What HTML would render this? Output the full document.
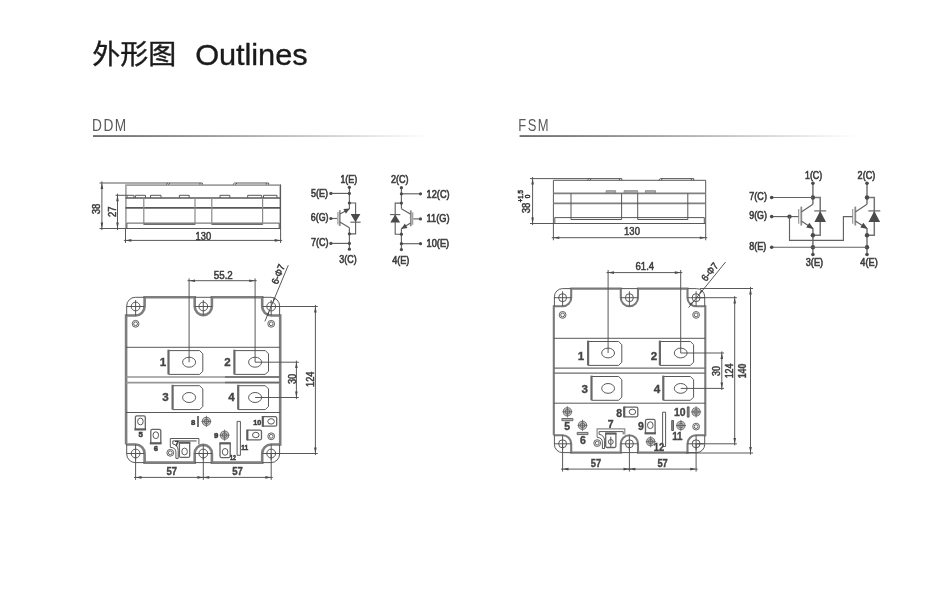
<!DOCTYPE html>
<html lang="zh">
<head>
<meta charset="utf-8">
<title>外形图 Outlines</title>
<style>
html,body{margin:0;padding:0;background:#fff;}
body{width:942px;height:591px;overflow:hidden;position:relative;font-family:"Liberation Sans","Noto Sans CJK SC",sans-serif;}
h1,h2{margin:0;padding:0;font-size:0;line-height:0;font-weight:400;}
svg.hd{position:absolute;left:0;top:0;}
svg .cj{font-weight:400;fill:#231815;stroke:#231815;stroke-width:0.4;}
svg .en{font-weight:400;fill:#231815;stroke:#231815;stroke-width:0.35;}
svg .sub{font-weight:400;fill:#5c5a5a;}
svg{position:absolute;left:0;top:0;}
svg.dw,svg.hd{filter:grayscale(1);}
svg .t{fill:none;stroke:#505050;stroke-width:0.95;}
svg .k{fill:none;stroke:#7e7e7e;stroke-width:2.6;}
svg .k2{fill:none;stroke:#7a7a7a;stroke-width:2.1;}
svg .o{fill:none;stroke:#a0a0a0;stroke-width:1.6;}
svg .o2{fill:none;stroke:#8a8a8a;stroke-width:1.2;}
svg .hb{fill:#b4b4b4;stroke:#606060;stroke-width:0.9;}
svg .vb{fill:#888;stroke:#555;stroke-width:0.9;}
svg .v{fill:none;stroke:#646464;stroke-width:1.3;}
svg .s2{fill:none;stroke:#5c5c5c;stroke-width:2.2;}
svg .s{fill:none;stroke:#585858;stroke-width:1.7;}
svg .kb{fill:none;stroke:#686868;stroke-width:2.2;}
svg .m4{fill:none;stroke:#808080;stroke-width:1.7;}
svg .tf{fill:#b0b0b0;stroke:#808080;stroke-width:0.8;}
svg .m3{fill:none;stroke:#6c6c6c;stroke-width:1.25;}
svg .m2{fill:none;stroke:#6a6a6a;stroke-width:1.5;}
svg .m{fill:none;stroke:#969696;stroke-width:1.7;}
svg .g{fill:none;stroke:#9a9a9a;stroke-width:1.2;}
svg .g2{fill:none;stroke:#8c8c8c;stroke-width:1.8;}
svg .cv{fill:none;stroke:#747474;stroke-width:1.5;}
svg .c{fill:none;stroke:#626262;stroke-width:1.15;}
svg .w2{fill:none;stroke:#5a5a5a;stroke-width:0.95;}
svg .w{fill:none;stroke:#585858;stroke-width:0.8;}
svg .x{fill:#c4c4c4;stroke:#666;stroke-width:0.9;}
svg .f{fill:#4a4a4a;stroke:none;}
svg text{font-family:"Liberation Sans","Noto Sans CJK SC",sans-serif;fill:#3c3c3c;}
svg .d{font-weight:400;stroke:#3c3c3c;stroke-width:0.5;}
svg .b{font-weight:400;stroke:#3c3c3c;stroke-width:0.6;}
svg .n{font-weight:700;fill:#444;stroke:#444;stroke-width:0.35;}
svg .n2{font-weight:700;fill:#3c3c3c;stroke:#3c3c3c;stroke-width:0.55;}
</style>
</head>
<body>
<h1><svg class="hd" width="400" height="90" viewBox="0 0 400 90"><text class="cj" transform="translate(92.2,64.1) scale(1,0.963)" font-size="28">外形图</text><text class="en" transform="translate(195.2,64.6) scale(1,0.963)" font-size="30.8" textLength="112.4" lengthAdjust="spacing">Outlines</text></svg></h1>
<h2><svg class="hd" style="top:100px" width="942" height="50" viewBox="0 100 942 50"><defs><linearGradient id="fade" x1="0" y1="0" x2="1" y2="0"><stop offset="0" stop-color="#5e5c5c"/><stop offset="0.3" stop-color="#8a8888"/><stop offset="0.65" stop-color="#c4c4c4"/><stop offset="1" stop-color="#ffffff"/></linearGradient></defs>
<text class="sub" transform="translate(91.9,130.8) scale(0.845,1)" font-size="16.2" letter-spacing="1.9">DDM</text><rect x="93.0" y="135.2" width="337" height="1.7" fill="url(#fade)"/>
<text class="sub" transform="translate(518.2,130.8) scale(0.80,1)" font-size="16.2" letter-spacing="1.9">FSM</text><rect x="519.6" y="135.2" width="337" height="1.7" fill="url(#fade)"/></svg></h2>
<svg class="dw" width="942" height="591" viewBox="0 0 942 591">
<g id="ddm-side">
<path class="t" d="M127.0 198.0V195.3H134.0V198.0"/>
<path class="t" d="M135.4 198.0V195.3H145.5V198.0"/>
<path class="t" d="M150.5 198.0V195.3H161.0V198.0"/>
<path class="t" d="M179.4 198.0V195.3H189.2V198.0"/>
<path class="t" d="M220.0 198.0V195.3H229.8V198.0"/>
<path class="t" d="M247.7 198.0V195.3H261.7V198.0"/>
<path class="t" d="M263.5 198.0V195.3H277.0V198.0"/>
<path class="o" d="M125.9 228.5V185.1H280.2V228.5"/>
<path class="t" d="M126.9 228.5V223.1H279.2V228.5"/>
<path class="s" d="M125.5 198.0L280.6 198.0"/>
<path class="s" d="M125.5 207.9L280.6 207.9"/>
<path class="o2" d="M143.8 198.0V224.2H195.0V198.0"/>
<path class="t" d="M143.8 224.2L195.0 224.2"/>
<path class="o2" d="M211.8 198.0V224.2H262.6V198.0"/>
<path class="t" d="M211.8 224.2L262.6 224.2"/>
<path class="t" d="M166.0 184.6L167.8 183.0H202.3V184.6M168.4 184.6L170.2 183.0M199.9 184.6V183.0"/>
<path class="t" d="M232.8 184.6L234.6 183.0H268.7V184.6M235.2 184.6L237.0 183.0M266.3 184.6V183.0"/>
<path class="t" d="M99.5 183.0L168.0 183.0"/>
<path class="t" d="M99.5 228.5L280.6 228.5"/>
<path class="t" d="M101.9 181.4L101.9 230.1"/>
<path class="f" d="M101.9 183.0L100.6 188.9L103.2 188.9Z"/>
<path class="f" d="M101.9 228.5L103.2 222.6L100.6 222.6Z"/>
<path class="t" d="M115.5 195.3L127.0 195.3"/>
<path class="t" d="M117.5 193.7L117.5 230.1"/>
<path class="f" d="M117.5 195.3L116.2 201.2L118.8 201.2Z"/>
<path class="f" d="M117.5 228.5L118.8 222.6L116.2 222.6Z"/>
<path class="t" d="M125.5 228.5L125.5 243.0"/>
<path class="t" d="M280.6 184.6L280.6 243.0"/>
<path class="t" d="M123.9 240.4L282.2 240.4"/>
<path class="f" d="M125.5 240.4L131.4 241.7L131.4 239.1Z"/>
<path class="f" d="M280.6 240.4L274.7 239.1L274.7 241.7Z"/>
<text class="d" x="100.4" y="209.0" font-size="10" text-anchor="middle" transform="rotate(-90 100.4 209.0)" textLength="10.6" lengthAdjust="spacingAndGlyphs">38</text>
<text class="d" x="115.8" y="211.8" font-size="10" text-anchor="middle" transform="rotate(-90 115.8 211.8)" textLength="10.6" lengthAdjust="spacingAndGlyphs">27</text>
<text class="d" x="203.3" y="239.6" font-size="10" text-anchor="middle" textLength="15.6" lengthAdjust="spacingAndGlyphs">130</text>
</g>
<g id="fsm-side">
<path class="tf" d="M606.1 193.4V190.7H615.6V193.4"/>
<path class="tf" d="M624.1 193.4V190.7H637.7V193.4"/>
<path class="tf" d="M645.4 193.4V190.7H655.5V193.4"/>
<path class="t" d="M553.4 223.5V180.3H705.7V223.5"/>
<path class="t" d="M554.8 223.5V217.6H704.3V223.5"/>
<path class="m4" d="M553.4 193.4L705.7 193.4"/>
<path class="m4" d="M553.4 203.3L705.7 203.3"/>
<path class="t" d="M571.0 193.4V219.5H621.6V193.4"/>
<path class="t" d="M637.7 193.4V219.5H687.8V193.4"/>
<path class="t" d="M587.2 180.3L589.0 178.6H621.8V180.3M589.6 180.3L591.4 178.6M619.4 180.3V178.6"/>
<path class="t" d="M658.5 180.3L660.3 178.6H693.7V180.3M660.9 180.3L662.7 178.6M691.3 180.3V178.6"/>
<path class="t" d="M530.0 178.6L589.0 178.6"/>
<path class="t" d="M530.0 223.5L705.7 223.5"/>
<path class="t" d="M532.6 177.0L532.6 225.1"/>
<path class="f" d="M532.6 178.6L531.3 184.5L533.9 184.5Z"/>
<path class="f" d="M532.6 223.5L533.9 217.6L531.3 217.6Z"/>
<path class="t" d="M553.4 223.5L553.4 240.3"/>
<path class="t" d="M705.7 223.5L705.7 240.3"/>
<path class="t" d="M551.8 237.7L707.3 237.7"/>
<path class="f" d="M553.4 237.7L559.3 239.0L559.3 236.4Z"/>
<path class="f" d="M705.7 237.7L699.8 236.4L699.8 239.0Z"/>
<text class="d" x="530.0" y="208.0" font-size="10" text-anchor="middle" transform="rotate(-90 530.0 208.0)" textLength="10.6" lengthAdjust="spacingAndGlyphs">38</text>
<text class="b" x="523.4" y="196.2" font-size="6.5" text-anchor="middle" transform="rotate(-90 523.4 196.2)" textLength="12.0" lengthAdjust="spacingAndGlyphs">+1.5</text>
<text class="b" x="530.0" y="196.5" font-size="6.5" text-anchor="middle" transform="rotate(-90 530.0 196.5)">0</text>
<text class="d" x="632.0" y="235.2" font-size="10" text-anchor="middle" textLength="15.8" lengthAdjust="spacingAndGlyphs">130</text>
</g>
<g id="ddm-circuit">
<path class="c" d="M349.4 187.3L349.4 209.1"/>
<path class="c" d="M349.4 227.8L349.4 249.2"/>
<path class="c" d="M330.9 193.4L349.4 193.4"/>
<path class="c" d="M330.9 243.4L349.4 243.4"/>
<path class="c" d="M330.9 218.5L337.4 218.5"/>
<path class="g" d="M337.9 212.0L337.9 224.6"/>
<path class="g2" d="M339.8 210.2L339.8 226.0"/>
<path class="c" d="M339.9 214.0L349.4 209.1"/>
<path class="c" d="M339.9 222.0L349.4 227.8"/>
<path class="f" d="M349.7 208.6L345.9 213.7L343.4 209.1Z"/>
<path class="c" d="M349.4 203.0H355.6V233.8H349.4"/>
<path class="f" d="M350.6 214.1L355.5 222.2L360.4 214.1Z"/>
<path class="c" d="M350.4 222.2L360.6 222.2"/>
<circle class="f" cx="349.4" cy="187.3" r="1.6"/>
<circle class="f" cx="349.4" cy="193.4" r="1.6"/>
<circle class="f" cx="349.4" cy="203.0" r="1.6"/>
<circle class="f" cx="349.4" cy="233.8" r="1.6"/>
<circle class="f" cx="349.4" cy="243.4" r="1.6"/>
<circle class="f" cx="349.4" cy="249.2" r="1.6"/>
<circle class="f" cx="330.9" cy="193.4" r="1.6"/>
<circle class="f" cx="330.9" cy="243.4" r="1.6"/>
<circle class="f" cx="330.9" cy="218.5" r="1.6"/>
<text class="b" x="348.8" y="183.2" font-size="10.3" text-anchor="middle" textLength="16.8" lengthAdjust="spacingAndGlyphs">1(E)</text>
<text class="b" x="319.4" y="197.0" font-size="10.3" text-anchor="middle" textLength="17.0" lengthAdjust="spacingAndGlyphs">5(E)</text>
<text class="b" x="319.7" y="221.4" font-size="10.3" text-anchor="middle" textLength="17.8" lengthAdjust="spacingAndGlyphs">6(G)</text>
<text class="b" x="319.8" y="246.4" font-size="10.3" text-anchor="middle" textLength="17.6" lengthAdjust="spacingAndGlyphs">7(C)</text>
<text class="b" x="348.0" y="262.8" font-size="10.3" text-anchor="middle" textLength="17.4" lengthAdjust="spacingAndGlyphs">3(C)</text>
<path class="c" d="M401.4 187.7L401.4 208.7"/>
<path class="c" d="M401.4 228.6L401.4 249.6"/>
<path class="c" d="M401.4 193.8L420.5 193.8"/>
<path class="c" d="M401.4 243.7L420.5 243.7"/>
<path class="c" d="M413.2 218.9L420.5 218.9"/>
<path class="g" d="M412.7 212.2L412.7 224.8"/>
<path class="g2" d="M410.8 210.4L410.8 226.2"/>
<path class="c" d="M401.4 208.7L410.7 214.3"/>
<path class="c" d="M410.7 223.0L401.4 228.6"/>
<path class="f" d="M401.2 228.9L404.8 223.6L407.5 228.0Z"/>
<path class="c" d="M401.4 203.1H395.2V234.2H401.4"/>
<path class="f" d="M390.3 222.6L395.2 214.6L400.1 222.6Z"/>
<path class="c" d="M390.1 214.6L400.3 214.6"/>
<circle class="f" cx="401.4" cy="187.7" r="1.6"/>
<circle class="f" cx="401.4" cy="193.8" r="1.6"/>
<circle class="f" cx="401.4" cy="203.1" r="1.6"/>
<circle class="f" cx="401.4" cy="234.2" r="1.6"/>
<circle class="f" cx="401.4" cy="243.7" r="1.6"/>
<circle class="f" cx="401.4" cy="249.6" r="1.6"/>
<circle class="f" cx="420.5" cy="193.8" r="1.6"/>
<circle class="f" cx="420.5" cy="243.7" r="1.6"/>
<circle class="f" cx="420.5" cy="218.9" r="1.6"/>
<text class="b" x="399.8" y="183.2" font-size="10.3" text-anchor="middle" textLength="17.6" lengthAdjust="spacingAndGlyphs">2(C)</text>
<text class="b" x="438.1" y="197.7" font-size="10.3" text-anchor="middle" textLength="23.0" lengthAdjust="spacingAndGlyphs">12(C)</text>
<text class="b" x="438.1" y="222.3" font-size="10.3" text-anchor="middle" textLength="23.0" lengthAdjust="spacingAndGlyphs">11(G)</text>
<text class="b" x="437.9" y="246.8" font-size="10.3" text-anchor="middle" textLength="22.6" lengthAdjust="spacingAndGlyphs">10(E)</text>
<text class="b" x="400.8" y="263.9" font-size="10.3" text-anchor="middle" textLength="17.2" lengthAdjust="spacingAndGlyphs">4(E)</text>
</g>
<g id="fsm-circuit">
<path class="cv" d="M812.9 183.3L812.9 204.2"/>
<path class="cv" d="M812.9 228.5L812.9 254.5"/>
<path class="g" d="M798.7 208.9L798.7 223.7"/>
<path class="g2" d="M801.3 206.6L801.3 225.5"/>
<path class="c" d="M801.3 211.9L812.9 204.2"/>
<path class="c" d="M801.3 221.0L812.9 228.5"/>
<path class="f" d="M813.7 228.9L806.2 227.6L809.4 222.7Z"/>
<path class="cv" d="M812.9 197.5H820.2V235.3H812.9"/>
<path class="f" d="M814.4 222.0L820.2 210.9L826.0 222.0Z"/>
<path class="c" d="M814.2 210.9L826.2 210.9"/>
<circle class="f" cx="812.9" cy="183.3" r="1.8"/>
<circle class="f" cx="812.9" cy="254.5" r="1.8"/>
<circle class="f" cx="812.9" cy="197.5" r="2.2"/>
<circle class="f" cx="812.9" cy="235.3" r="2.2"/>
<circle class="f" cx="812.9" cy="247.2" r="2.2"/>
<path class="cv" d="M867.0 183.3L867.0 204.2"/>
<path class="cv" d="M867.0 228.5L867.0 254.5"/>
<path class="g" d="M852.7 208.9L852.7 223.7"/>
<path class="g2" d="M855.3 206.6L855.3 225.5"/>
<path class="c" d="M855.3 211.9L867.0 204.2"/>
<path class="c" d="M855.3 221.0L867.0 228.5"/>
<path class="f" d="M867.8 228.9L860.3 227.6L863.4 222.7Z"/>
<path class="cv" d="M867.0 197.5H874.3V235.3H867.0"/>
<path class="f" d="M868.5 222.0L874.3 210.9L880.1 222.0Z"/>
<path class="c" d="M868.3 210.9L880.3 210.9"/>
<circle class="f" cx="867.0" cy="183.3" r="1.8"/>
<circle class="f" cx="867.0" cy="254.5" r="1.8"/>
<circle class="f" cx="867.0" cy="197.5" r="2.2"/>
<circle class="f" cx="867.0" cy="235.3" r="2.2"/>
<circle class="f" cx="867.0" cy="247.2" r="2.2"/>
<path class="c" d="M771.7 197.5L812.9 197.5"/>
<circle class="f" cx="771.7" cy="197.5" r="1.8"/>
<path class="c" d="M771.7 216.6L798.5 216.6"/>
<circle class="f" cx="771.7" cy="216.6" r="1.8"/>
<circle class="f" cx="789.5" cy="216.6" r="2.2"/>
<path class="c" d="M789.5 216.6V240.3H843.4V216.6H852.5"/>
<path class="c" d="M771.7 247.2L867.0 247.2"/>
<circle class="f" cx="771.7" cy="247.2" r="1.8"/>
<text class="b" x="813.6" y="179.4" font-size="10.3" text-anchor="middle" textLength="17.2" lengthAdjust="spacingAndGlyphs">1(C)</text>
<text class="b" x="866.4" y="179.4" font-size="10.3" text-anchor="middle" textLength="17.6" lengthAdjust="spacingAndGlyphs">2(C)</text>
<text class="b" x="758.1" y="199.9" font-size="10.3" text-anchor="middle" textLength="17.6" lengthAdjust="spacingAndGlyphs">7(C)</text>
<text class="b" x="758.1" y="219.4" font-size="10.3" text-anchor="middle" textLength="17.8" lengthAdjust="spacingAndGlyphs">9(G)</text>
<text class="b" x="757.7" y="249.9" font-size="10.3" text-anchor="middle" textLength="17.0" lengthAdjust="spacingAndGlyphs">8(E)</text>
<text class="b" x="814.4" y="266.3" font-size="10.3" text-anchor="middle" textLength="17.4" lengthAdjust="spacingAndGlyphs">3(E)</text>
<text class="b" x="869.0" y="266.3" font-size="10.3" text-anchor="middle" textLength="17.4" lengthAdjust="spacingAndGlyphs">4(E)</text>
</g>
<g id="ddm-top">
<path class="k" d="M126.1 444.5V315.5H135.6A9.0 9.0 0 0 0 144.6 306.5V297.3H194.7V306.5A8.6 8.6 0 0 0 211.9 306.5V297.3H262.2V306.5A9.0 9.0 0 0 0 271.2 315.5H280.2V444.5H271.2A9.0 9.0 0 0 0 262.2 453.5V462.6H211.9V453.5A8.6 8.6 0 0 0 194.7 453.5V462.6H144.6V453.5A9.0 9.0 0 0 0 135.6 444.5H126.1"/>
<path class="t" d="M126.7 315.5V305.9A8.6 8.6 0 0 1 135.3 297.3H144.6"/>
<path class="t" d="M262.2 297.3H271.0A8.6 8.6 0 0 1 279.6 305.9V315.5"/>
<path class="t" d="M126.7 444.5V454.0A8.6 8.6 0 0 0 135.3 462.6H144.6"/>
<path class="t" d="M262.2 462.6H271.0A8.6 8.6 0 0 0 279.6 454.0V444.5"/>
<path class="t" d="M194.7 297.3L211.9 297.3"/>
<path class="t" d="M194.7 462.6L211.9 462.6"/>
<circle class="t" cx="135.6" cy="306.5" r="4.4"/>
<path class="t" d="M127.0 306.5L144.2 306.5"/>
<path class="t" d="M135.6 300.1L135.6 315.5"/>
<circle class="t" cx="135.6" cy="453.5" r="4.4"/>
<path class="t" d="M127.0 453.5L144.2 453.5"/>
<path class="t" d="M135.6 444.5L135.6 459.9"/>
<circle class="t" cx="203.3" cy="306.5" r="4.4"/>
<path class="t" d="M194.7 306.5L211.9 306.5"/>
<path class="t" d="M203.3 300.1L203.3 315.5"/>
<circle class="t" cx="203.3" cy="453.5" r="4.4"/>
<path class="t" d="M194.7 453.5L211.9 453.5"/>
<path class="t" d="M203.3 444.5L203.3 459.9"/>
<circle class="t" cx="271.2" cy="306.5" r="4.4"/>
<path class="t" d="M262.6 306.5L279.8 306.5"/>
<path class="t" d="M271.2 300.1L271.2 315.5"/>
<circle class="t" cx="271.2" cy="453.5" r="4.4"/>
<path class="t" d="M262.6 453.5L279.8 453.5"/>
<path class="t" d="M271.2 444.5L271.2 459.9"/>
<circle class="w2" cx="135.6" cy="323.8" r="3.4"/>
<circle class="w2" cx="135.6" cy="323.8" r="1.9"/>
<circle class="w2" cx="271.2" cy="323.8" r="3.4"/>
<circle class="w2" cx="271.2" cy="323.8" r="1.9"/>
<circle class="w2" cx="271.2" cy="436.3" r="3.4"/>
<circle class="w2" cx="271.2" cy="436.3" r="1.9"/>
<circle class="w2" cx="170.3" cy="452.8" r="3.4"/>
<circle class="w2" cx="170.3" cy="452.8" r="1.9"/>
<path class="t" d="M126.1 347.3L280.2 347.3"/>
<path class="m" d="M126.1 377.0L280.2 377.0"/>
<path class="m" d="M126.1 382.6L280.2 382.6"/>
<path class="m2" d="M225.0 377.0L280.2 377.0"/>
<path class="m2" d="M225.0 382.6L280.2 382.6"/>
<path class="t" d="M126.1 412.5L280.2 412.5"/>
<path class="t" d="M168.5 350.6H199.6L202.8 353.8V371.2L199.6 374.4H168.5"/>
<path class="kb" d="M168.5 349.7L168.5 374.4"/>
<ellipse class="t" cx="189.1" cy="362.2" rx="6.5" ry="5.0"/>
<path class="t" d="M234.4 350.6H265.3L268.5 353.8V371.2L265.3 374.4H234.4"/>
<path class="kb" d="M234.4 349.7L234.4 374.4"/>
<ellipse class="t" cx="255.1" cy="362.2" rx="6.5" ry="5.0"/>
<path class="t" d="M172.6 385.7H199.6L202.8 388.9V406.4L199.6 409.6H172.6"/>
<path class="kb" d="M172.6 384.8L172.6 409.6"/>
<ellipse class="t" cx="189.1" cy="397.5" rx="6.5" ry="5.0"/>
<path class="t" d="M238.2 385.7H265.3L268.5 388.9V406.4L265.3 409.6H238.2"/>
<path class="kb" d="M238.2 384.8L238.2 409.6"/>
<ellipse class="t" cx="255.1" cy="397.5" rx="6.5" ry="5.0"/>
<text class="n" x="163.0" y="365.7" font-size="11.6" text-anchor="middle">1</text>
<text class="n" x="227.6" y="365.7" font-size="11.6" text-anchor="middle">2</text>
<text class="n" x="165.4" y="401.3" font-size="11.6" text-anchor="middle">3</text>
<text class="n" x="231.4" y="401.3" font-size="11.6" text-anchor="middle">4</text>
<path class="t" d="M189.1 278.4L189.1 362.2"/>
<path class="t" d="M255.1 278.4L255.1 362.2"/>
<path class="t" d="M187.5 280.7L256.7 280.7"/>
<path class="f" d="M189.1 280.7L195.0 282.0L195.0 279.4Z"/>
<path class="f" d="M255.1 280.7L249.2 279.4L249.2 282.0Z"/>
<text class="d" x="223.3" y="279.0" font-size="10" text-anchor="middle" textLength="19.0" lengthAdjust="spacingAndGlyphs">55.2</text>
<path class="t" d="M255.1 362.2L298.8 362.2"/>
<path class="t" d="M255.1 397.5L298.8 397.5"/>
<path class="t" d="M296.4 360.6L296.4 399.1"/>
<path class="f" d="M296.4 362.2L295.1 368.1L297.7 368.1Z"/>
<path class="f" d="M296.4 397.5L297.7 391.6L295.1 391.6Z"/>
<text class="d" x="295.5" y="379.0" font-size="10" text-anchor="middle" transform="rotate(-90 295.5 379.0)" textLength="10.2" lengthAdjust="spacingAndGlyphs">30</text>
<path class="t" d="M271.2 306.5L317.8 306.5"/>
<path class="t" d="M271.2 453.5L317.8 453.5"/>
<path class="t" d="M315.4 304.9L315.4 455.1"/>
<path class="f" d="M315.4 306.5L314.1 312.4L316.7 312.4Z"/>
<path class="f" d="M315.4 453.5L316.7 447.6L314.1 447.6Z"/>
<text class="d" x="313.8" y="379.2" font-size="10" text-anchor="middle" transform="rotate(-90 313.8 379.2)" textLength="15.4" lengthAdjust="spacingAndGlyphs">124</text>
<path class="t" d="M264.9 321.4L288.3 265.2"/>
<path class="f" d="M272.7 302.6L275.6 298.4L273.7 297.6Z"/>
<path class="f" d="M269.5 310.4L266.6 314.6L268.5 315.4Z"/>
<text class="d" x="277.4" y="285.0" font-size="10" text-anchor="start" transform="rotate(-67.4 277.4 285.0)" textLength="20.5" lengthAdjust="spacingAndGlyphs">6-Φ7</text>
<path class="t" d="M135.6 453.5L135.6 479.9"/>
<path class="t" d="M203.3 453.5L203.3 479.9"/>
<path class="t" d="M271.2 453.5L271.2 479.9"/>
<path class="t" d="M134.0 477.4L204.9 477.4"/>
<path class="f" d="M135.6 477.4L141.5 478.7L141.5 476.1Z"/>
<path class="f" d="M203.3 477.4L197.4 476.1L197.4 478.7Z"/>
<path class="t" d="M201.7 477.4L272.8 477.4"/>
<path class="f" d="M203.3 477.4L209.2 478.7L209.2 476.1Z"/>
<path class="f" d="M271.2 477.4L265.3 476.1L265.3 478.7Z"/>
<text class="n" x="171.7" y="475.2" font-size="10" text-anchor="middle" textLength="10.6" lengthAdjust="spacingAndGlyphs">57</text>
<text class="n" x="237.6" y="475.2" font-size="10" text-anchor="middle" textLength="10.6" lengthAdjust="spacingAndGlyphs">57</text>
<path class="v" d="M135.4 429.4V417.3Q135.4 415.8 136.9 415.8H143.8Q145.3 415.8 145.3 417.3V429.4"/>
<path class="s2" d="M134.4 429.4L146.1 429.4"/>
<ellipse class="t" cx="140.4" cy="421.5" rx="2.8" ry="3.4"/>
<text class="n2" x="140.6" y="437.3" font-size="8.0" text-anchor="middle" textLength="4.3" lengthAdjust="spacingAndGlyphs">5</text>
<path class="v" d="M150.8 443.3V430.8Q150.8 429.3 152.3 429.3H159.3Q160.8 429.3 160.8 430.8V443.3"/>
<path class="s2" d="M149.8 443.3L161.6 443.3"/>
<ellipse class="t" cx="155.8" cy="435.2" rx="2.8" ry="3.4"/>
<text class="n2" x="155.9" y="450.7" font-size="8.0" text-anchor="middle" textLength="4.3" lengthAdjust="spacingAndGlyphs">6</text>
<text class="n2" x="193.1" y="424.8" font-size="8.0" text-anchor="middle" textLength="4.3" lengthAdjust="spacingAndGlyphs">8</text>
<path class="s" d="M198.0 415.9L198.0 426.9"/>
<circle class="x" cx="206.4" cy="421.4" r="4.1"/>
<circle class="w" cx="206.4" cy="421.4" r="2.3"/>
<path class="w" d="M201.4 421.4L211.4 421.4"/>
<path class="w" d="M206.4 415.8L206.4 427.0"/>
<text class="n2" x="216.2" y="437.8" font-size="8.0" text-anchor="middle" textLength="4.3" lengthAdjust="spacingAndGlyphs">9</text>
<circle class="x" cx="224.6" cy="435.2" r="4.1"/>
<circle class="w" cx="224.6" cy="435.2" r="2.3"/>
<path class="w" d="M219.6 435.2L229.6 435.2"/>
<path class="w" d="M224.6 429.6L224.6 440.8"/>
<text class="n2" x="257.3" y="424.5" font-size="8.0" text-anchor="middle" textLength="8.0" lengthAdjust="spacingAndGlyphs">10</text>
<path class="v" d="M262.8 416.6H275.2Q276.7 416.6 276.7 418.1V424.7Q276.7 426.2 275.2 426.2H262.8"/>
<path class="s2" d="M262.8 416.0L262.8 426.8"/>
<ellipse class="t" cx="271.1" cy="421.4" rx="3.3" ry="2.7"/>
<path class="v" d="M247.3 430.2H260.0Q261.5 430.2 261.5 431.7V438.3Q261.5 439.8 260.0 439.8H247.3"/>
<path class="s2" d="M247.3 429.6L247.3 440.4"/>
<ellipse class="t" cx="255.8" cy="435.0" rx="3.3" ry="2.7"/>
<text class="n2" x="244.7" y="449.8" font-size="8.0" text-anchor="middle" textLength="7.0" lengthAdjust="spacingAndGlyphs">11</text>
<path class="t" d="M237.1 421.4H240.4V455.3H237.1Z"/>
<path class="v" d="M220.0 443.3V456.1Q220.0 457.6 221.5 457.6H228.7Q230.2 457.6 230.2 456.1V443.3"/>
<path class="s2" d="M219.4 443.3L230.8 443.3"/>
<ellipse class="t" cx="225.1" cy="451.9" rx="2.8" ry="3.4"/>
<text class="n2" x="233.0" y="459.8" font-size="6.4" text-anchor="middle" textLength="5.8" lengthAdjust="spacingAndGlyphs">12</text>
<path class="t" d="M170.3 447.3V438.5H198.9V444.4"/>
<path class="m" d="M172.8 440.9L196.6 440.9"/>
<path class="v" d="M179.4 442.7V455.9Q179.4 457.4 180.9 457.4H188.2Q189.7 457.4 189.7 455.9V442.7"/>
<path class="s2" d="M178.8 442.7L190.3 442.7"/>
<ellipse class="t" cx="184.6" cy="451.5" rx="2.8" ry="3.4"/>
<path class="t" d="M170.3 447.3Q175.9 447.6 175.9 452.2V458.4H178.2V450.4Q177.8 444.6 172.8 444.0V440.9"/>
<text class="n2" x="176.9" y="446.0" font-size="6.6" text-anchor="middle">7</text>
</g>
<g id="fsm-top">
<path class="k2" d="M553.8 435.2V306.3H562.6A8.6 8.6 0 0 0 571.2 297.7V288.6H620.8V297.7A8.6 8.6 0 0 0 638.0 297.7V288.6H687.5V297.7A8.6 8.6 0 0 0 696.1 306.3H705.3V435.2H696.1A8.6 8.6 0 0 0 687.5 443.8V452.6H638.0V443.8A8.6 8.6 0 0 0 620.8 443.8V452.6H571.2V443.8A8.6 8.6 0 0 0 562.6 435.2H553.8"/>
<path class="t" d="M554.4 306.3V296.8A8.2 8.2 0 0 1 562.6 288.6H571.2"/>
<path class="t" d="M687.5 288.6H696.5A8.2 8.2 0 0 1 704.7 296.8V306.3"/>
<path class="t" d="M554.4 435.2V444.4A8.2 8.2 0 0 0 562.6 452.6H571.2"/>
<path class="t" d="M687.5 452.6H696.5A8.2 8.2 0 0 0 704.7 444.4V435.2"/>
<path class="t" d="M620.8 288.6L638.0 288.6"/>
<path class="t" d="M620.8 452.6L638.0 452.6"/>
<circle class="t" cx="562.6" cy="297.7" r="4.0"/>
<path class="t" d="M554.0 297.7L571.2 297.7"/>
<path class="t" d="M562.6 291.3L562.6 306.3"/>
<circle class="t" cx="562.6" cy="443.8" r="4.0"/>
<path class="t" d="M554.0 443.8L571.2 443.8"/>
<path class="t" d="M562.6 435.2L562.6 450.2"/>
<circle class="t" cx="629.4" cy="297.7" r="4.0"/>
<path class="t" d="M620.8 297.7L638.0 297.7"/>
<path class="t" d="M629.4 291.3L629.4 306.3"/>
<circle class="t" cx="629.4" cy="443.8" r="4.0"/>
<path class="t" d="M620.8 443.8L638.0 443.8"/>
<path class="t" d="M629.4 435.2L629.4 450.2"/>
<circle class="t" cx="696.1" cy="297.7" r="4.0"/>
<path class="t" d="M687.5 297.7L704.7 297.7"/>
<path class="t" d="M696.1 291.3L696.1 306.3"/>
<circle class="t" cx="696.1" cy="443.8" r="4.0"/>
<path class="t" d="M687.5 443.8L704.7 443.8"/>
<path class="t" d="M696.1 435.2L696.1 450.2"/>
<circle class="w2" cx="562.6" cy="314.9" r="3.4"/>
<circle class="w2" cx="562.6" cy="314.9" r="1.9"/>
<circle class="w2" cx="696.1" cy="314.9" r="3.4"/>
<circle class="w2" cx="696.1" cy="314.9" r="1.9"/>
<circle class="w2" cx="696.1" cy="426.6" r="3.4"/>
<circle class="w2" cx="696.1" cy="426.6" r="1.9"/>
<circle class="w2" cx="597.2" cy="443.1" r="3.4"/>
<circle class="w2" cx="597.2" cy="443.1" r="1.9"/>
<path class="t" d="M553.8 338.3L705.3 338.3"/>
<path class="m3" d="M553.8 368.1L705.3 368.1"/>
<path class="m3" d="M553.8 373.1L705.3 373.1"/>
<path class="t" d="M553.8 403.2L705.3 403.2"/>
<path class="t" d="M588.1 341.5H618.6L621.8 344.7V362.2L618.6 365.4H588.1"/>
<path class="kb" d="M588.1 340.6L588.1 365.4"/>
<ellipse class="t" cx="608.1" cy="353.0" rx="6.4" ry="4.9"/>
<path class="t" d="M659.9 341.5H690.4L693.6 344.7V362.2L690.4 365.4H659.9"/>
<path class="kb" d="M659.9 340.6L659.9 365.4"/>
<ellipse class="t" cx="680.7" cy="353.0" rx="6.4" ry="4.9"/>
<path class="t" d="M591.5 376.5H618.6L621.8 379.7V397.1L618.6 400.3H591.5"/>
<path class="kb" d="M591.5 375.6L591.5 400.3"/>
<ellipse class="t" cx="608.1" cy="388.4" rx="6.4" ry="4.9"/>
<path class="t" d="M663.3 376.5H690.4L693.6 379.7V397.1L690.4 400.3H663.3"/>
<path class="kb" d="M663.3 375.6L663.3 400.3"/>
<ellipse class="t" cx="680.7" cy="388.4" rx="6.4" ry="4.9"/>
<text class="n" x="580.9" y="359.7" font-size="11.6" text-anchor="middle">1</text>
<text class="n" x="653.9" y="359.7" font-size="11.6" text-anchor="middle">2</text>
<text class="n" x="584.8" y="392.5" font-size="11.6" text-anchor="middle">3</text>
<text class="n" x="657.0" y="392.5" font-size="11.6" text-anchor="middle">4</text>
<path class="t" d="M608.1 270.0L608.1 353.0"/>
<path class="t" d="M680.7 270.0L680.7 353.0"/>
<path class="t" d="M606.5 272.6L682.3 272.6"/>
<path class="f" d="M608.1 272.6L614.0 273.9L614.0 271.3Z"/>
<path class="f" d="M680.7 272.6L674.8 271.3L674.8 273.9Z"/>
<text class="d" x="644.8" y="270.2" font-size="10" text-anchor="middle" textLength="18.6" lengthAdjust="spacingAndGlyphs">61.4</text>
<path class="t" d="M680.7 353.0L724.0 353.0"/>
<path class="t" d="M680.7 388.4L724.0 388.4"/>
<path class="t" d="M721.8 351.4L721.8 390.0"/>
<path class="f" d="M721.8 353.0L720.5 358.9L723.1 358.9Z"/>
<path class="f" d="M721.8 388.4L723.1 382.5L720.5 382.5Z"/>
<text class="d" x="720.2" y="371.0" font-size="10" text-anchor="middle" transform="rotate(-90 720.2 371.0)" textLength="10.0" lengthAdjust="spacingAndGlyphs">30</text>
<path class="t" d="M696.1 297.7L736.9 297.7"/>
<path class="t" d="M696.1 443.8L736.9 443.8"/>
<path class="t" d="M734.7 296.1L734.7 445.4"/>
<path class="f" d="M734.7 297.7L733.4 303.6L736.0 303.6Z"/>
<path class="f" d="M734.7 443.8L736.0 437.9L733.4 437.9Z"/>
<text class="d" x="732.8" y="370.9" font-size="10" text-anchor="middle" transform="rotate(-90 732.8 370.9)" textLength="14.8" lengthAdjust="spacingAndGlyphs">124</text>
<path class="t" d="M700.0 288.5L753.0 288.5"/>
<path class="t" d="M686.0 453.0L753.0 453.0"/>
<path class="t" d="M750.5 286.9L750.5 454.6"/>
<path class="f" d="M750.5 288.5L749.2 294.4L751.8 294.4Z"/>
<path class="f" d="M750.5 453.0L751.8 447.1L749.2 447.1Z"/>
<text class="n" x="745.8" y="370.9" font-size="10" text-anchor="middle" transform="rotate(-90 745.8 370.9)" textLength="14.8" lengthAdjust="spacingAndGlyphs">140</text>
<path class="t" d="M688.6 307.6L725.6 262.0"/>
<path class="f" d="M698.7 294.4L702.7 291.2L701.1 289.9Z"/>
<path class="f" d="M693.5 301.0L689.5 304.2L691.1 305.5Z"/>
<text class="d" x="706.0" y="282.0" font-size="10" text-anchor="start" transform="rotate(-51 706.0 282.0)" textLength="20.5" lengthAdjust="spacingAndGlyphs">6-Φ7</text>
<path class="t" d="M562.6 443.8L562.6 471.6"/>
<path class="t" d="M629.4 443.8L629.4 471.6"/>
<path class="t" d="M696.1 443.8L696.1 471.6"/>
<path class="t" d="M561.0 469.1L631.0 469.1"/>
<path class="f" d="M562.6 469.1L568.5 470.4L568.5 467.8Z"/>
<path class="f" d="M629.4 469.1L623.5 467.8L623.5 470.4Z"/>
<path class="t" d="M627.8 469.1L697.7 469.1"/>
<path class="f" d="M629.4 469.1L635.3 470.4L635.3 467.8Z"/>
<path class="f" d="M696.1 469.1L690.2 467.8L690.2 470.4Z"/>
<text class="n" x="596.0" y="466.5" font-size="10" text-anchor="middle" textLength="10.4" lengthAdjust="spacingAndGlyphs">57</text>
<text class="n" x="662.6" y="466.5" font-size="10" text-anchor="middle" textLength="10.4" lengthAdjust="spacingAndGlyphs">57</text>
<circle class="x" cx="567.4" cy="411.8" r="4.1"/>
<circle class="w" cx="567.4" cy="411.8" r="2.3"/>
<path class="w" d="M562.4 411.8L572.4 411.8"/>
<path class="w" d="M567.4 406.2L567.4 417.4"/>
<path class="hb" d="M561.9 418.5H572.9V420.7H561.9Z"/>
<text class="n" x="567.2" y="429.8" font-size="10.5" text-anchor="middle">5</text>
<circle class="x" cx="582.5" cy="425.3" r="4.1"/>
<circle class="w" cx="582.5" cy="425.3" r="2.3"/>
<path class="w" d="M577.5 425.3L587.5 425.3"/>
<path class="w" d="M582.5 419.7L582.5 430.9"/>
<path class="hb" d="M577.2 432.4H588.0V434.6H577.2Z"/>
<text class="n" x="582.8" y="444.0" font-size="10.5" text-anchor="middle">6</text>
<text class="n" x="610.7" y="427.5" font-size="10.5" text-anchor="middle">7</text>
<path class="o2" d="M597.1 437.3V428.8H624.8V434.6"/>
<path class="t" d="M599.1 434.3V431.6H623.2V434.4"/>
<path class="v" d="M605.7 433.5V446.0Q605.7 447.5 607.2 447.5H614.4Q615.9 447.5 615.9 446.0V433.5"/>
<path class="s2" d="M605.1 433.5L616.5 433.5"/>
<circle class="t" cx="610.8" cy="441.9" r="2.4"/>
<path class="t" d="M610.8 436.7L610.8 447.1"/>
<path class="t" d="M597.1 437.3Q602.4 437.8 602.4 442.2V448.5H604.6V440.6Q604.4 435.2 599.1 434.3"/>
<text class="n" x="619.2" y="416.6" font-size="10.5" text-anchor="middle">8</text>
<path class="v" d="M624.2 407.1H636.3Q637.8 407.1 637.8 408.6V415.3Q637.8 416.8 636.3 416.8H624.2"/>
<path class="s2" d="M624.2 406.5L624.2 417.4"/>
<ellipse class="t" cx="632.4" cy="411.9" rx="3.3" ry="2.7"/>
<text class="n" x="641.0" y="429.8" font-size="10.5" text-anchor="middle">9</text>
<path class="v" d="M645.5 433.3V420.9Q645.5 419.4 647.0 419.4H653.6Q655.1 419.4 655.1 420.9V433.3"/>
<path class="s2" d="M644.5 433.3L655.9 433.3"/>
<ellipse class="t" cx="650.3" cy="425.2" rx="2.8" ry="3.4"/>
<circle class="x" cx="650.7" cy="441.7" r="4.1"/>
<circle class="w" cx="650.7" cy="441.7" r="2.3"/>
<path class="w" d="M645.7 441.7L655.7 441.7"/>
<path class="w" d="M650.7 436.1L650.7 447.3"/>
<text class="n" x="659.0" y="450.8" font-size="10.5" text-anchor="middle" textLength="10.4" lengthAdjust="spacingAndGlyphs">12</text>
<path class="t" d="M662.6 412.2H665.6V446.5H662.6Z"/>
<text class="n" x="679.8" y="416.4" font-size="10.5" text-anchor="middle" textLength="11.6" lengthAdjust="spacingAndGlyphs">10</text>
<path class="vb" d="M687.3 406.9H689.1V417.1H687.3Z"/>
<circle class="x" cx="696.1" cy="411.9" r="4.1"/>
<circle class="w" cx="696.1" cy="411.9" r="2.3"/>
<path class="w" d="M691.1 411.9L701.1 411.9"/>
<path class="w" d="M696.1 406.3L696.1 417.5"/>
<path class="vb" d="M671.7 420.5H673.5V430.5H671.7Z"/>
<circle class="x" cx="680.9" cy="425.5" r="4.1"/>
<circle class="w" cx="680.9" cy="425.5" r="2.3"/>
<path class="w" d="M675.9 425.5L685.9 425.5"/>
<path class="w" d="M680.9 419.9L680.9 431.1"/>
<text class="n" x="677.4" y="440.3" font-size="10.5" text-anchor="middle" textLength="10.4" lengthAdjust="spacingAndGlyphs">11</text>
</g>
</svg>
</body>
</html>
